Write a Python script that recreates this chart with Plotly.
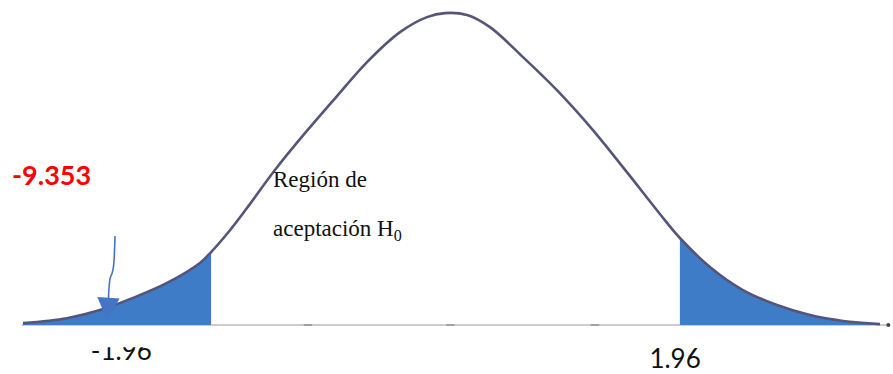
import plotly.graph_objects as go

# Standardised axis (z) and relative density height of the bell curve
curve_z = [-3.533, -3.165, -2.889, -2.613, -2.328, -2.053, -1.96, -1.802, -1.660,
           -1.426, -1.175, -0.907, -0.656, -0.380, -0.155, -0.004,
           0.180, 0.372, 0.648, 0.932, 1.233, 1.517, 1.793, 1.96,
           2.211, 2.487, 2.772, 3.048, 3.324, 3.633]
curve_h = [0.006, 0.022, 0.048, 0.087, 0.135, 0.199, 0.234, 0.304, 0.375,
           0.497, 0.615, 0.734, 0.843, 0.939, 0.987, 1.000,
           0.994, 0.955, 0.859, 0.753, 0.625, 0.490, 0.356, 0.279,
           0.186, 0.112, 0.064, 0.032, 0.013, 0.003]

critical_low = -1.96
critical_high = 1.96
statistic = -9.353

crit_labels = ["-1.96", "1.96"]
crit_label_z = [-2.71, 1.92]
crit_label_h = [-0.092, -0.116]

axis_ticks = [-1.15, 0.04, 1.25]

FILL = "#3f7cc8"
CURVE = "#55557a"

left_z = [z for z in curve_z if z <= critical_low]
left_h = [h for z, h in zip(curve_z, curve_h) if z <= critical_low]
right_z = [z for z in curve_z if z >= critical_high]
right_h = [h for z, h in zip(curve_z, curve_h) if z >= critical_high]

fig = go.Figure()

# rejection regions
for xs, ys in ((left_z, left_h), (right_z, right_h)):
    fig.add_trace(go.Scatter(x=xs, y=ys, mode="lines", fill="tozeroy",
                             fillcolor=FILL, line=dict(width=0, shape="spline"),
                             hoverinfo="skip", showlegend=False))

# baseline
fig.add_shape(type="line", x0=curve_z[0] - 0.01, x1=curve_z[-1] + 0.07, y0=0, y1=0,
              line=dict(color="#cccccc", width=2), layer="below")

fig.add_trace(go.Scatter(x=axis_ticks, y=[0] * len(axis_ticks), mode="markers",
                         marker=dict(symbol="line-ew", size=6,
                                     line=dict(color="#a0a0a0", width=2)),
                         hoverinfo="skip", showlegend=False))
fig.add_trace(go.Scatter(x=[curve_z[-1] + 0.07], y=[0], mode="markers",
                         marker=dict(symbol="circle", size=4, color="#444444"),
                         hoverinfo="skip", showlegend=False))

# density curve
fig.add_trace(go.Scatter(x=curve_z, y=curve_h, mode="lines",
                         line=dict(color=CURVE, width=2.6, shape="spline"),
                         hoverinfo="skip", showlegend=False))

# critical value labels
fig.add_trace(go.Scatter(x=crit_label_z, y=crit_label_h, mode="text",
                         text=crit_labels, textposition="middle center",
                         textfont=dict(family="Lato", size=26, color="#111111"),
                         cliponaxis=False, hoverinfo="skip", showlegend=False))

# white band trimming the top of the left label
fig.add_shape(type="rect", x0=-3.02, x1=-2.38, y0=-0.071, y1=-0.026,
              fillcolor="white", line=dict(width=0), layer="above")

# test statistic
fig.add_annotation(x=-3.64, y=0.482, text=f"{statistic:.3f}", showarrow=False,
                   xanchor="left", yanchor="middle",
                   font=dict(family="Lato", size=27, color="#ff0000", weight="bold"))

# acceptance region text
fig.add_annotation(x=-1.459, y=0.465, text="Región de", showarrow=False,
                   xanchor="left", yanchor="middle",
                   font=dict(family="Liberation Serif", size=23, color="#111111"))
fig.add_annotation(x=-1.459, y=0.305, text="aceptación H<sub>0</sub>", showarrow=False,
                   xanchor="left", yanchor="middle",
                   font=dict(family="Liberation Serif", size=23, color="#111111"))

# hand-drawn pointer towards the tail
ARROW = "#4474c4"
fig.add_shape(type="path",
              path="M -2.763,0.285 L -2.770,0.215 Q -2.775,0.170 -2.800,0.155 "
                   "Q -2.815,0.140 -2.820,0.060",
              line=dict(color=ARROW, width=1.6), layer="above")
fig.add_annotation(x=-2.830, y=0.016, ax=-2.822, ay=0.062, axref="x", ayref="y",
                   xref="x", yref="y", showarrow=True, arrowhead=2, arrowsize=2.8,
                   arrowwidth=1.6, arrowcolor=ARROW, text="")

fig.update_layout(
    width=893, height=374,
    margin=dict(l=0, r=0, t=0, b=0),
    paper_bgcolor="white", plot_bgcolor="white",
    xaxis=dict(range=[-3.725, 3.742], visible=False),
    yaxis=dict(range=[-0.157, 1.042], visible=False),
    showlegend=False,
)

fig.write_html("out.html")
